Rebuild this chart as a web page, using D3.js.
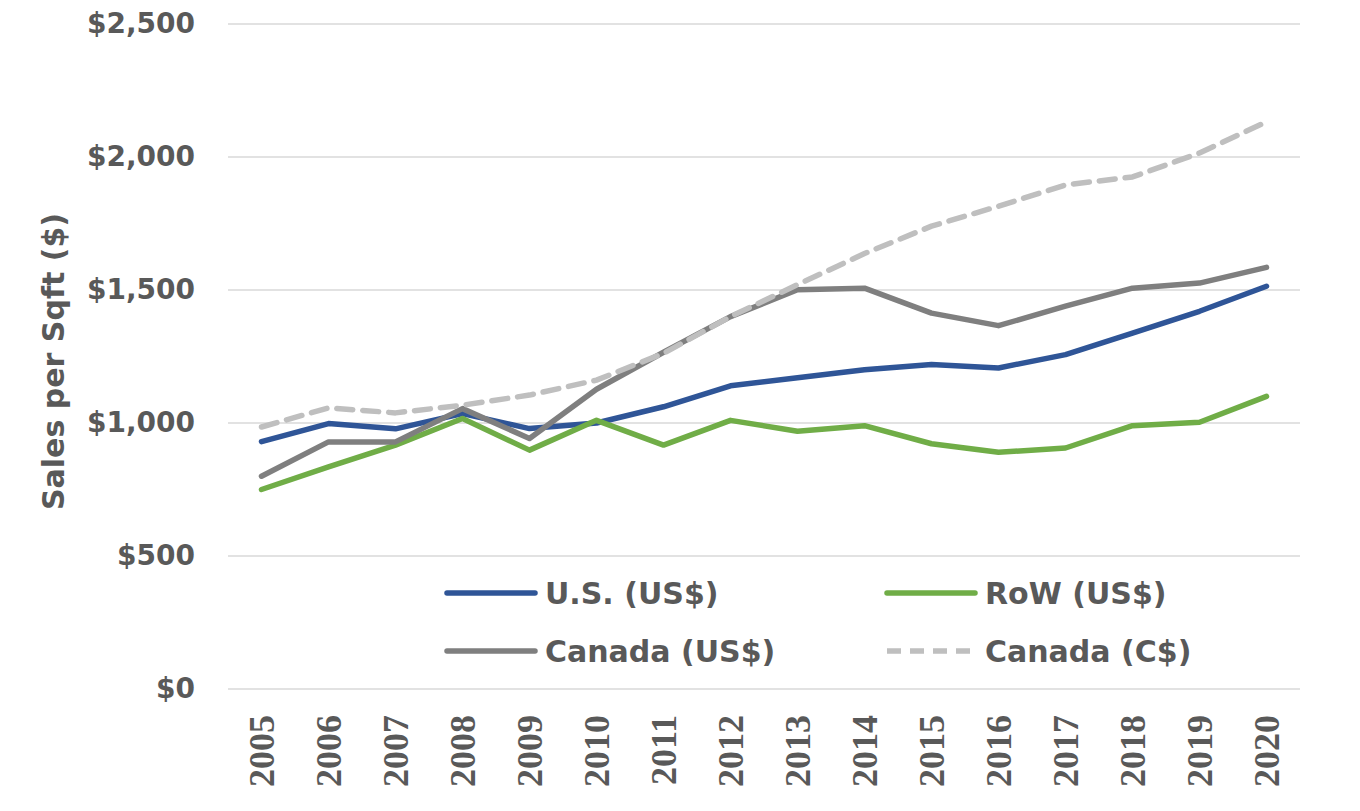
<!DOCTYPE html>
<html>
<head>
<meta charset="utf-8">
<script src="https://cdn.jsdelivr.net/npm/d3@7"></script>
<style>
  html, body { margin: 0; padding: 0; background: #fff; }
  svg { display: block; }
</style>
</head>
<body>
<div id="chart"></div>
<script>
const width = 1360;
const height = 811;
const margin = { top: 24, right: 60, bottom: 122, left: 228 };

// Data
const years = ["2005", "2006", "2007", "2008", "2009", "2010", "2011", "2012",
  "2013", "2014", "2015", "2016", "2017", "2018", "2019", "2020"];
const usValues = [930, 998, 978, 1035, 979, 1000, 1061, 1140, 1170, 1200, 1220, 1207, 1257, 1338, 1420, 1514];
const rowValues = [750, 835, 917, 1017, 898, 1010, 917, 1010, 969, 990, 922, 890, 906, 990, 1003, 1100];
const canadaUsValues = [800, 929, 929, 1054, 942, 1127, 1266, 1400, 1501, 1507, 1413, 1366, 1439, 1507, 1526, 1585];
const canadaCadValues = [985, 1057, 1038, 1067, 1105, 1161, 1262, 1400, 1520, 1637, 1740, 1815, 1895, 1925, 2015, 2132];
const yTicks = [0, 500, 1000, 1500, 2000, 2500];

const series = [
  { name: "U.S. (US$)", values: usValues, color: "#2F5597", dash: null },
  { name: "RoW (US$)", values: rowValues, color: "#70AD47", dash: null },
  { name: "Canada (US$)", values: canadaUsValues, color: "#7F7F7F", dash: null },
  { name: "Canada (C$)", values: canadaCadValues, color: "#BFBFBF", dash: "16,10" }
];

const sans = "'DejaVu Sans', Verdana, sans-serif";

const svg = d3.select("#chart").append("svg")
  .attr("width", width)
  .attr("height", height);

const x = d3.scalePoint()
  .domain(years)
  .range([margin.left, width - margin.right])
  .padding(0.5);

const y = d3.scaleLinear()
  .domain([0, 2500])
  .range([height - margin.bottom, margin.top]);

// gridlines
svg.append("g")
  .selectAll("line")
  .data(yTicks)
  .join("line")
    .attr("x1", margin.left)
    .attr("x2", width - margin.right)
    .attr("y1", d => y(d))
    .attr("y2", d => y(d))
    .attr("stroke", "#D9D9D9")
    .attr("stroke-width", 1.5);

// y axis labels
const yAxis = svg.append("g")
  .attr("transform", `translate(${margin.left}, 0)`)
  .call(d3.axisLeft(y).tickValues(yTicks).tickSize(0).tickPadding(33)
    .tickFormat(d => "$" + d3.format(",")(d)));
yAxis.select(".domain").remove();
yAxis.selectAll("text")
  .style("font-family", sans)
  .style("font-size", "28px")
  .style("font-weight", "bold")
  .style("fill", "#595959");

// x axis labels (rotated)
const xAxis = svg.append("g")
  .attr("transform", `translate(0, ${height - margin.bottom})`)
  .call(d3.axisBottom(x).tickSize(0));
xAxis.select(".domain").remove();
xAxis.selectAll("text")
  .attr("transform", "rotate(-90)")
  .attr("x", -26)
  .attr("y", 0)
  .attr("dy", "0.33em")
  .attr("text-anchor", "end")
  .style("font-family", "'Liberation Serif', 'DejaVu Serif', serif")
  .style("font-size", "36px")
  .style("font-weight", "bold")
  .style("fill", "#595959");

// y axis title
svg.append("text")
  .attr("transform", `translate(53, ${y(1250) + 5}) rotate(-90)`)
  .attr("text-anchor", "middle")
  .attr("dy", "0.35em")
  .style("font-family", sans)
  .style("font-size", "30px")
  .style("font-weight", "bold")
  .style("fill", "#595959")
  .text("Sales per Sqft ($)");

// lines
const line = d3.line()
  .x((d, i) => x(years[i]))
  .y(d => y(d));

svg.append("g")
  .selectAll("path")
  .data(series)
  .join("path")
    .attr("d", d => line(d.values))
    .attr("fill", "none")
    .attr("stroke", d => d.color)
    .attr("stroke-width", 5.5)
    .attr("stroke-linejoin", "round")
    .attr("stroke-linecap", "round")
    .attr("stroke-dasharray", d => d.dash);

// legend
const legend = svg.append("g");
const legendItems = legend.selectAll("g")
  .data(series)
  .join("g")
    .attr("transform", (d, i) => `translate(${i % 2 === 0 ? 447 : 887}, ${i < 2 ? 593 : 651})`);

legendItems.append("line")
  .attr("x1", 0)
  .attr("x2", 88)
  .attr("stroke", d => d.color)
  .attr("stroke-width", 5.5)
  .attr("stroke-linecap", d => d.dash ? "butt" : "round")
  .attr("stroke-dasharray", d => d.dash ? "14,9" : null);

legendItems.append("text")
  .attr("x", 98)
  .attr("dy", "0.35em")
  .style("font-family", sans)
  .style("font-size", "30px")
  .style("font-weight", "bold")
  .style("fill", "#595959")
  .text(d => d.name);
</script>
</body>
</html>
